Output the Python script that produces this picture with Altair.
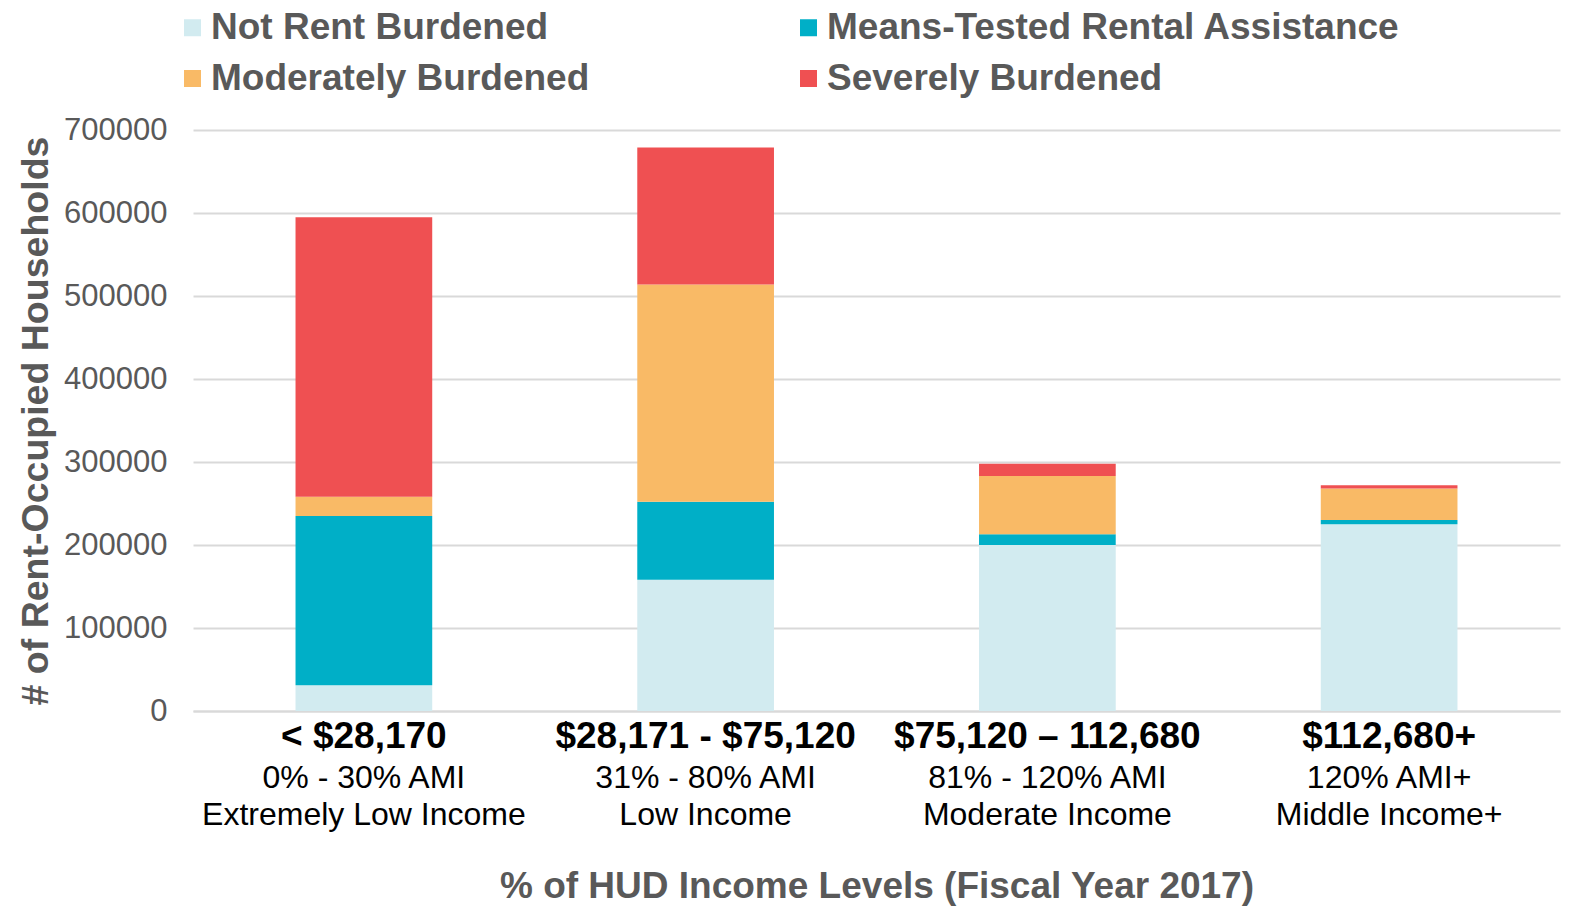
import altair as alt
import pandas as pd

FONT = "Liberation Sans"

# Income bands (x categories)
categories = ["< $28,170", "$28,171 - $75,120", "$75,120 \u2013 112,680", "$112,680+"]
sub_labels = [
    "0% - 30% AMI\nExtremely Low Income",
    "31% - 80% AMI\nLow Income",
    "81% - 120% AMI\nModerate Income",
    "120% AMI+\nMiddle Income+",
]

# Series (stack order bottom -> top)
statuses = [
    "Not Rent Burdened",
    "Means-Tested Rental Assistance",
    "Moderately Burdened",
    "Severely Burdened",
]
not_rent_burdened = [31000, 158000, 200000, 225000]
means_tested = [204000, 94000, 13000, 5000]
moderately_burdened = [23000, 262000, 70000, 38000]
severely_burdened = [337000, 165000, 15000, 4000]
colors = ["#D2EBF0", "#00AFC7", "#F9BA66", "#EF5052"]

# legend reading order (two columns, filled column by column)
legend_order = [0, 2, 1, 3]

y_ticks = [0, 100000, 200000, 300000, 400000, 500000, 600000, 700000]

series = [not_rent_burdened, means_tested, moderately_burdened, severely_burdened]
rows = []
for i, cat in enumerate(categories):
    for j, (s, vals) in enumerate(zip(statuses, series)):
        rows.append({"income": cat, "status": s, "households": vals[i], "order": j})
df = pd.DataFrame(rows)
labels_df = pd.DataFrame({"income": categories, "sub": sub_labels})

legend_domain = [statuses[k] for k in legend_order]
legend_range = [colors[k] for k in legend_order]

W, H = 1367, 581

xscale = alt.Scale(domain=categories, paddingInner=0.6, paddingOuter=0.3)
x_axis = alt.Axis(
    title="% of HUD Income Levels (Fiscal Year 2017)",
    labelAngle=0,
    labelFont=FONT,
    labelFontSize=37,
    labelFontWeight="bold",
    labelColor="#000000",
    labelPadding=7,
    labelLimit=500,
    ticks=False,
    tickSize=0,
    domainColor="#D9D9D9",
    domainWidth=2,
    grid=False,
    titleFont=FONT,
    titleFontSize=37,
    titleFontWeight="bold",
    titleColor="#595959",
    titleY=186,
    titleBaseline="alphabetic",
)

bars = alt.Chart(df).mark_bar().encode(
    x=alt.X("income:N", scale=xscale, sort=categories, axis=x_axis),
    y=alt.Y(
        "households:Q",
        stack="zero",
        scale=alt.Scale(domain=[0, 700000], nice=False),
        axis=alt.Axis(
            values=y_ticks,
            format="d",
            title="# of Rent-Occupied Households",
            titleFont=FONT,
            titleFontSize=37.5,
            titleFontWeight="bold",
            titleColor="#595959",
            titleX=-146,
            titleBaseline="alphabetic",
            titleAngle=-90,
            labelFont=FONT,
            labelFontSize=31,
            labelColor="#595959",
            labelPadding=26,
            ticks=False,
            tickSize=0,
            domain=False,
            gridColor="#D9D9D9",
            gridWidth=2,
        ),
    ),
    color=alt.Color(
        "status:N",
        scale=alt.Scale(domain=legend_domain, range=legend_range),
        legend=alt.Legend(
            title=None,
            orient="none",
            legendX=-19,
            legendY=-121,
            columns=2,
            gridAlign="each",
            columnPadding=200,
            rowPadding=13,
            symbolType="square",
            symbolSize=289,
            symbolStrokeWidth=0,
            symbolOpacity=1,
            labelFont=FONT,
            labelFontSize=37,
            labelFontWeight="bold",
            labelColor="#595959",
            labelLimit=700,
            labelOffset=0,
            padding=0,
        ),
    ),
    order=alt.Order("order:Q", sort="ascending"),
)

subs = alt.Chart(labels_df).mark_text(
    font=FONT,
    fontSize=32,
    color="#000000",
    baseline="alphabetic",
    align="center",
    lineBreak="\n",
    lineHeight=37,
).encode(
    x=alt.X("income:N", scale=xscale, sort=categories, axis=x_axis),
    y=alt.value(H + 77),
    text="sub:N",
)

chart = (
    alt.layer(bars, subs)
    .properties(
        width=W,
        height=H,
        autosize=alt.AutoSizeParams(type="none"),
        padding={"left": 185, "top": 122, "right": 3, "bottom": 196},
    )
    .configure_view(stroke=None)
)

chart.save("out.html", embed_options={"renderer": "svg", "actions": False})
